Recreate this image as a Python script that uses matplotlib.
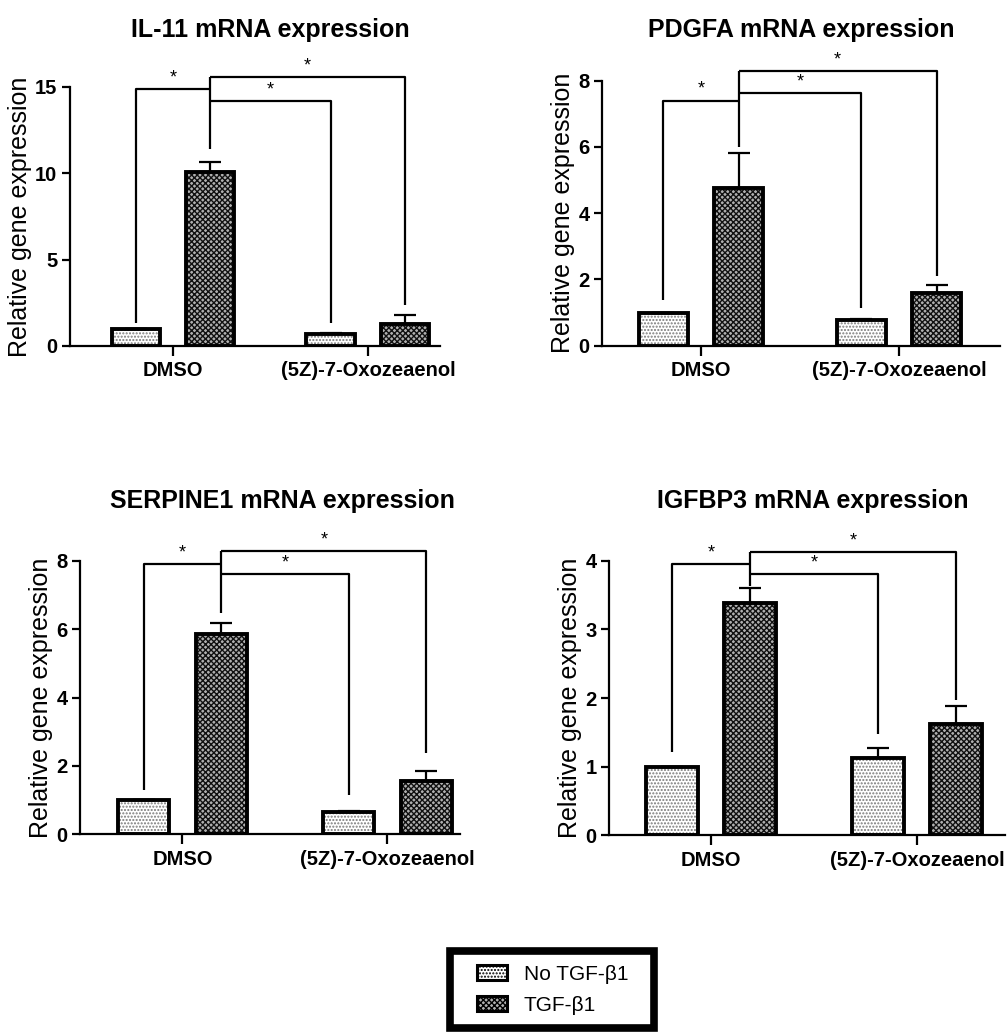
import numpy as np
import matplotlib
matplotlib.use('Agg')
import matplotlib.pyplot as plt
from matplotlib.patches import Patch, Rectangle

plt.rcParams['font.family'] = ['Liberation Sans', 'DejaVu Sans']
plt.rcParams['hatch.linewidth'] = 1.0

# ================================
# data

groups = ['DMSO', '(5Z)-7-Oxozeaenol']
series = ['No TGF-β1', 'TGF-β1']
titles = ['IL-11 mRNA expression', 'PDGFA mRNA expression',
          'SERPINE1 mRNA expression', 'IGFBP3 mRNA expression']

# mean per group: [DMSO, Oxozeaenol]
il11_no = [1.0, 0.70]
il11_tgf = [10.1, 1.28]
il11_no_err = [0.0, 0.08]
il11_tgf_err = [0.58, 0.52]

pdgfa_no = [1.0, 0.78]
pdgfa_tgf = [4.75, 1.58]
pdgfa_no_err = [0.0, 0.03]
pdgfa_tgf_err = [1.08, 0.25]

serp_no = [1.0, 0.64]
serp_tgf = [5.85, 1.57]
serp_no_err = [0.0, 0.04]
serp_tgf_err = [0.33, 0.29]

igf_no = [1.0, 1.13]
igf_tgf = [3.38, 1.62]
igf_no_err = [0.0, 0.14]
igf_tgf_err = [0.22, 0.26]

yticks = [[0, 5, 10, 15], [0, 2, 4, 6, 8], [0, 2, 4, 6, 8], [0, 1, 2, 3, 4]]

# significance brackets: levels [DMSO pair, DMSO-TGF vs Oxo, DMSO-TGF vs Oxo-TGF]
# and leg bottoms [DMSO no, DMSO tgf, Oxo no, Oxo tgf]
br_levels = [[14.9, 14.2, 15.6], [7.4, 7.62, 8.28], [7.9, 7.61, 8.28], [3.95, 3.8, 4.13]]
br_legs = [[1.33, 11.4, 1.33, 2.4], [1.38, 6.0, 1.14, 2.1],
           [1.3, 6.48, 1.15, 2.38], [1.22, 3.63, 1.48, 1.97]]

no_vals = [il11_no, pdgfa_no, serp_no, igf_no]
tgf_vals = [il11_tgf, pdgfa_tgf, serp_tgf, igf_tgf]
no_errs = [il11_no_err, pdgfa_no_err, serp_no_err, igf_no_err]
tgf_errs = [il11_tgf_err, pdgfa_tgf_err, serp_tgf_err, igf_tgf_err]

# ================================
# layout

W, H = 1008, 1032
fig = plt.figure(figsize=(W / 100, H / 100), dpi=100)

# axes boxes in pixels: left, top, right, bottom
boxes = [(70, 87, 440, 346), (602, 80.7, 1000, 345.7),
         (80, 560.7, 460, 834.3), (609, 560.7, 1005, 835.3)]
xlims = [(-0.528, 1.37), (-0.5, 1.51), (-0.5, 1.354), (-0.495, 1.427)]
title_pos = [(270, 30), (801, 30), (282, 501), (813, 501)]

off = 0.19
bw = 0.25
no_style = dict(facecolor='white', edgecolor='#7a7a7a', hatch='.....')
tgf_style = dict(facecolor='#b0b0b0', edgecolor='#111111', hatch='xxxxxx')

x = np.arange(len(groups))

for i in range(4):
    l, t, r, b = boxes[i]
    ax = fig.add_axes([l / W, 1 - b / H, (r - l) / W, (b - t) / H])

    xn = x - off
    xt = x + off
    # hatched fill then black outline
    ax.bar(xn, no_vals[i], bw, linewidth=0, **no_style)
    ax.bar(xt, tgf_vals[i], bw, linewidth=0, **tgf_style)
    ax.bar(xn, no_vals[i], bw, fill=False, edgecolor='black', linewidth=2.8)
    ax.bar(xt, tgf_vals[i], bw, fill=False, edgecolor='black', linewidth=2.8)

    # upper error bars only
    ax.errorbar(xn, no_vals[i], yerr=[np.zeros(2), no_errs[i]], fmt='none',
                ecolor='black', elinewidth=1.6, capsize=8, capthick=1.6)
    ax.errorbar(xt, tgf_vals[i], yerr=[np.zeros(2), tgf_errs[i]], fmt='none',
                ecolor='black', elinewidth=1.6, capsize=8, capthick=1.6)

    # brackets
    bx = [xn[0], xt[0], xn[1], xt[1]]
    h1, h2, h3 = br_levels[i]
    lg = br_legs[i]
    kw = dict(color='black', lw=1.6, clip_on=False, solid_capstyle='butt')
    ax.plot([bx[0], bx[0], bx[1]], [lg[0], h1, h1], **kw)
    ax.plot([bx[1], bx[1]], [lg[1], h3], **kw)
    ax.plot([bx[1], bx[2], bx[2]], [h2, h2, lg[2]], **kw)
    ax.plot([bx[1], bx[3], bx[3]], [h3, h3, lg[3]], **kw)
    ymax = yticks[i][-1]
    for (xa, xb), hh in zip([(bx[0], bx[1]), (bx[1], bx[2]), (bx[1], bx[3])], [h1, h2, h3]):
        ax.text((xa + xb) / 2, hh + ymax * 0.01, '*', ha='center', va='bottom',
                fontsize=13, clip_on=False)

    ax.set_xlim(*xlims[i])
    ax.set_ylim(0, ymax)
    ax.set_yticks(yticks[i])
    ax.set_xticks(x)
    ax.set_xticklabels(groups, fontweight='bold', fontsize=14.5)
    for lab in ax.get_yticklabels():
        lab.set_fontweight('bold')
    ax.tick_params(axis='y', labelsize=14.5, width=1.6, length=6, pad=3)
    ax.tick_params(axis='x', width=1.6, length=7, pad=4)
    ax.spines['top'].set_visible(False)
    ax.spines['right'].set_visible(False)
    ax.spines['left'].set_linewidth(1.6)
    ax.spines['bottom'].set_linewidth(1.6)
    ax.set_ylabel('Relative gene expression', fontsize=18, labelpad=2)

    tx, ty = title_pos[i]
    fig.text(tx / W, 1 - ty / H, titles[i], ha='center', va='center',
             fontsize=18, fontweight='bold')

# ================================
# legend (frame drawn separately so its size can match)

frame = Rectangle((450 / W, 1 - 1028 / H), 204 / W, 77 / H, transform=fig.transFigure,
                  facecolor='white', edgecolor='black', linewidth=5.5, zorder=1)
fig.patches.append(frame)

handles = [Patch(linewidth=2.2, edgecolor='black', facecolor='white', hatch='.....', label=series[0]),
           Patch(linewidth=2.2, edgecolor='black', facecolor='#b0b0b0', hatch='xxxxxx', label=series[1])]
leg = fig.legend(handles=handles, loc='upper left', bbox_to_anchor=(477 / W, 1 - 965 / H),
                 fontsize=15, frameon=False, handlelength=1.45,
                 handleheight=0.75, borderpad=0, labelspacing=0.58, handletextpad=0.8,
                 borderaxespad=0)
leg.set_zorder(2)

plt.savefig('out.png', dpi=100)
